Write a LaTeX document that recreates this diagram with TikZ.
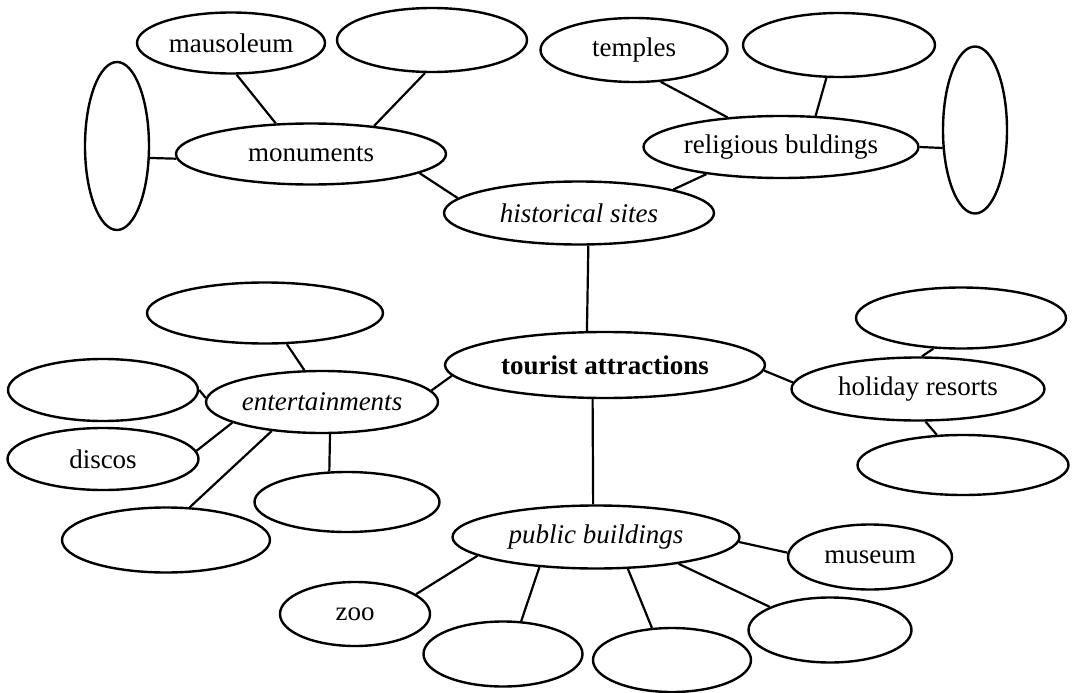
\documentclass[tikz,border=0pt]{standalone}
\usepackage{fontspec}
\setmainfont{Liberation Serif}
\usetikzlibrary{shapes.geometric}
\begin{document}
\begin{tikzpicture}[x=1pt,y=-1pt,
  el/.style={draw, ellipse, line width=2.4pt, inner sep=0pt, font=\fontsize{27}{30}\selectfont},
  con/.style={line width=2.2pt}]
\useasboundingbox (0,0) rectangle (1076,693);
% top-left cluster
\node[el, minimum width=188pt, minimum height=61pt] (maus) at (231,43) {mausoleum};
\node[el, minimum width=190pt, minimum height=64pt] (btop) at (432,40) {};
\node[el, minimum width=64pt, minimum height=168pt] (tallL) at (117,146) {};
\node[el, minimum width=270pt, minimum height=61pt] (monu) at (311,154) {monuments};
% top-right cluster
\node[el, minimum width=187pt, minimum height=64pt] (temples) at (634,50) {temples};
\node[el, minimum width=192pt, minimum height=64pt] (btopr) at (839,45) {};
\node[el, minimum width=64pt, minimum height=167pt] (tallR) at (975,130) {};
\node[el, minimum width=275pt, minimum height=62pt] (relig) at (781,147) {religious buldings};
% centre
\node[el, minimum width=270pt, minimum height=63pt] (hist) at (579,213) {\itshape historical sites};
\node[el, minimum width=320pt, minimum height=66pt] (tour) at (605,365) {\bfseries tourist attractions};
% entertainments cluster
\node[el, minimum width=236pt, minimum height=61pt] (bEntTop) at (265,313) {};
\node[el, minimum width=190pt, minimum height=62pt] (bEntLeft) at (103,390) {};
\node[el, minimum width=232pt, minimum height=62pt] (ent) at (322,402) {\itshape entertainments};
\node[el, minimum width=191pt, minimum height=62pt] (discos) at (103,459) {discos};
\node[el, minimum width=185pt, minimum height=60pt] (bEntMid) at (347,502) {};
\node[el, minimum width=208pt, minimum height=65pt] (bEntBot) at (166,540) {};
% holiday resorts cluster
\node[el, minimum width=210pt, minimum height=61pt] (bHolTop) at (961,318) {};
\node[el, minimum width=253pt, minimum height=63pt] (hol) at (918,389) {holiday resorts};
\node[el, minimum width=211pt, minimum height=60pt] (bHolBot) at (963,465) {};
% public buildings cluster
\node[el, minimum width=287pt, minimum height=63pt] (pub) at (596,537) {\itshape public buildings};
\node[el, minimum width=164pt, minimum height=65pt] (museum) at (870,557) {museum};
\node[el, minimum width=150pt, minimum height=64pt] (zoo) at (355,614) {zoo};
\node[el, minimum width=159pt, minimum height=65pt] (bp1) at (503,654) {};
\node[el, minimum width=158pt, minimum height=64pt] (bp2) at (672,660) {};
\node[el, minimum width=163pt, minimum height=65pt] (bp3) at (830,630) {};
% connectors
\draw[con] (tallL.-20) -- (monu.182);
\draw[con] (maus.-80) -- (monu.139);
\draw[con] (btop.-102) -- (monu.24);
\draw[con] (monu.-10) -- (hist.173);
\draw[con] (hist.14) -- (relig.200);
\draw[con] (temples.-50) -- (relig.151);
\draw[con] (btopr.-111) -- (relig.42);
\draw[con] (relig.0) -- (tallR.209);
\draw[con] (hist.-74) -- (tour.118);
\draw[con] (tour.-110) -- (pub.95);
\draw[con] (ent.6) -- (tour.184);
\draw[con] (bEntTop.-55) -- (ent.119);
\draw[con] (bEntLeft.0) -- (ent.178);
\draw[con] (discos.5) -- (ent.193);
\draw[con] (bEntBot.54) -- (ent.210);
\draw[con] (ent.-76) -- (bEntMid.120);
\draw[con] (tour.-2) -- (hol.177);
\draw[con] (hol.83) -- (bHolTop.-132);
\draw[con] (hol.-77) -- (bHolBot.131);
\draw[con] (pub.-2) -- (museum.177);
\draw[con] (pub.189) -- (zoo.18);
\draw[con] (pub.208) -- (bp1.61);
\draw[con] (pub.-45) -- (bp2.122);
\draw[con] (pub.-18) -- (bp3.159);
\end{tikzpicture}
\end{document}
